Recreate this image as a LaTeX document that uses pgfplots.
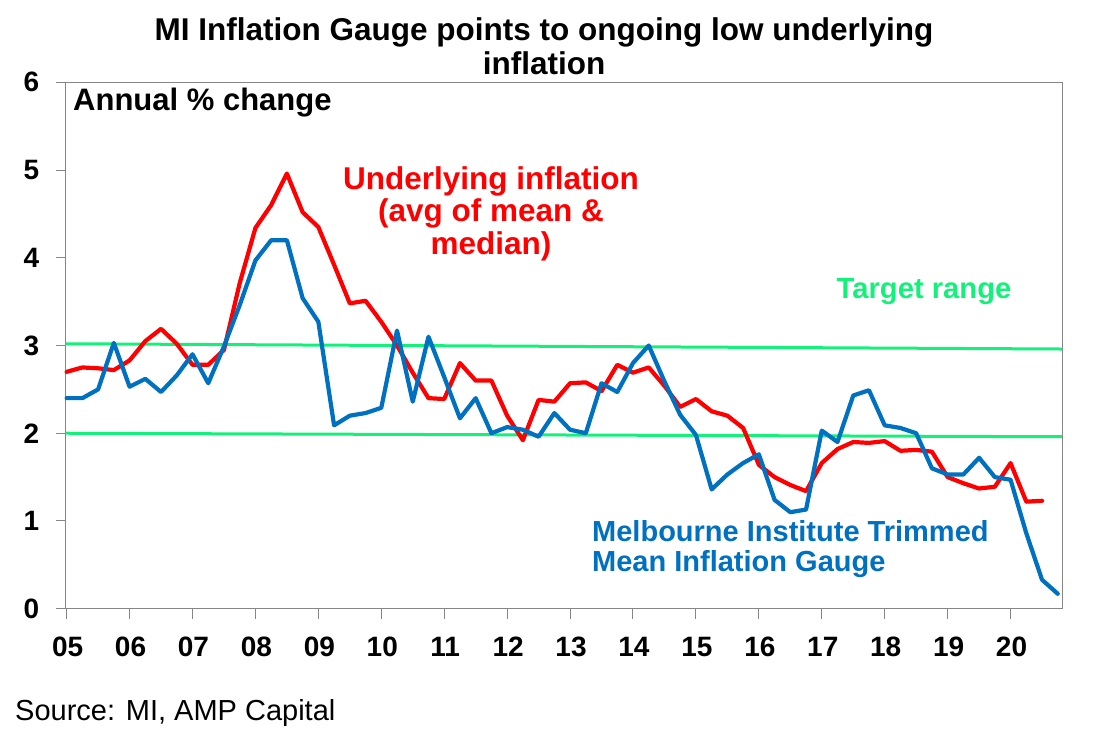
\documentclass[border=0pt]{standalone}
\usepackage{pgfplots}
\pgfplotsset{compat=1.18}
\usepackage{pgfplotstable}
\usetikzlibrary{calc}
\usepackage{fontspec}
\setmainfont{Liberation Sans}
\definecolor{mired}{HTML}{FF0000}
\definecolor{miblue}{HTML}{0070C0}
\definecolor{migreen}{HTML}{12F27A}
\definecolor{axisgray}{HTML}{868686}

\pgfplotstableread{
i v
0 2.70
1 2.75
2 2.74
3 2.72
4 2.83
5 3.05
6 3.19
7 3.02
8 2.78
9 2.78
10 2.95
11 3.71
12 4.34
13 4.60
14 4.96
15 4.52
16 4.35
17 3.92
18 3.48
19 3.51
20 3.27
21 3.00
22 2.69
23 2.40
24 2.39
25 2.80
26 2.60
27 2.60
28 2.20
29 1.92
30 2.38
31 2.36
32 2.57
33 2.58
34 2.48
35 2.78
36 2.69
37 2.75
38 2.54
39 2.30
40 2.39
41 2.25
42 2.20
43 2.06
44 1.64
45 1.50
46 1.41
47 1.34
48 1.66
49 1.82
50 1.90
51 1.89
52 1.91
53 1.80
54 1.81
55 1.79
56 1.50
57 1.43
58 1.37
59 1.39
60 1.66
61 1.22
62 1.23
}\underlying

\pgfplotstableread{
i v
0 2.40
1 2.40
2 2.50
3 3.03
4 2.53
5 2.62
6 2.47
7 2.66
8 2.90
9 2.57
10 2.99
11 3.46
12 3.97
13 4.20
14 4.20
15 3.54
16 3.27
17 2.09
18 2.20
19 2.23
20 2.29
21 3.17
22 2.36
23 3.10
24 2.64
25 2.17
26 2.40
27 2.00
28 2.07
29 2.04
30 1.96
31 2.23
32 2.04
33 2.00
34 2.57
35 2.47
36 2.80
37 3.00
38 2.59
39 2.21
40 1.98
41 1.36
42 1.53
43 1.66
44 1.76
45 1.24
46 1.10
47 1.13
48 2.03
49 1.90
50 2.43
51 2.49
52 2.09
53 2.06
54 2.00
55 1.60
56 1.53
57 1.53
58 1.72
59 1.50
60 1.47
61 0.86
62 0.33
63 0.17
}\gauge

\begin{document}
\begin{tikzpicture}[x=1pt,y=1pt]
\begin{axis}[
  scale only axis, width=996.3pt, height=526.4pt,
  xmin=-0.06, xmax=63.27, ymin=0, ymax=6,
  xtick={0,4,...,60},
  xticklabels={05,06,07,08,09,10,11,12,13,14,15,16,17,18,19,20},
  ytick={0,1,2,3,4,5,6},
  tick pos=left,
  tick align=outside,
  major tick length=10pt,
  axis line style={draw=axisgray, line width=1pt},
  every tick/.style={draw=axisgray, line width=1pt},
  tick label style={font=\fontsize{28}{30}\selectfont\bfseries, text=black},
  /pgf/number format/assume math mode=true,
  yticklabel style={xshift=-13pt},
  xticklabel style={xshift=1pt, yshift=-15pt},
  clip=false,
]
\coordinate (BL) at (rel axis cs:0,0);
\addplot[migreen, line width=3pt] coordinates {(-0.06,3.02) (63.27,2.96)};
\addplot[migreen, line width=3pt] coordinates {(-0.06,2.00) (63.27,1.96)};
\addplot[mired, line width=4.2pt, line join=round, line cap=round] table[x=i,y=v] {\underlying};
\addplot[miblue, line width=4.2pt, line join=round, line cap=round] table[x=i,y=v] {\gauge};
\end{axis}
\coordinate (O) at ($(BL)+(-65.7,-131.3)$);
\pgfresetboundingbox
\useasboundingbox (O) rectangle ($(O)+(1096,740)$);
% title
\node[anchor=base, font=\fontsize{31.5}{33}\selectfont\bfseries] at ($(O)+(544,699)$) {MI Inflation Gauge points to ongoing low underlying};
\node[anchor=base, font=\fontsize{31.5}{33}\selectfont\bfseries] at ($(O)+(544,665)$) {inflation};
\node[anchor=base west, inner sep=0pt, font=\fontsize{31}{33}\selectfont\bfseries] at ($(O)+(73,629.3)$) {Annual \% change};
% red label
\node[anchor=base, text=mired, font=\fontsize{31.5}{33}\selectfont\bfseries] at ($(O)+(491,550)$) {Underlying inflation};
\node[anchor=base, text=mired, font=\fontsize{31.5}{33}\selectfont\bfseries] at ($(O)+(491,518)$) {(avg of mean \&};
\node[anchor=base, text=mired, font=\fontsize{31.5}{33}\selectfont\bfseries] at ($(O)+(491,485)$) {median)};
% target
\node[anchor=base, text=migreen, font=\fontsize{29.2}{31}\selectfont\bfseries] at ($(O)+(924,441.5)$) {Target range};
% blue label
\node[anchor=base west, inner sep=0pt, text=miblue, font=\fontsize{29}{31}\selectfont\bfseries] at ($(O)+(592,199)$) {Melbourne Institute Trimmed};
\node[anchor=base west, inner sep=0pt, text=miblue, font=\fontsize{29}{31}\selectfont\bfseries] at ($(O)+(592,169)$) {Mean Inflation Gauge};
% source
\node[anchor=base west, inner sep=0pt, font=\fontsize{29}{31}\selectfont] at ($(O)+(15,20)$) {Source: MI, AMP Capital};
\end{tikzpicture}
\end{document}
